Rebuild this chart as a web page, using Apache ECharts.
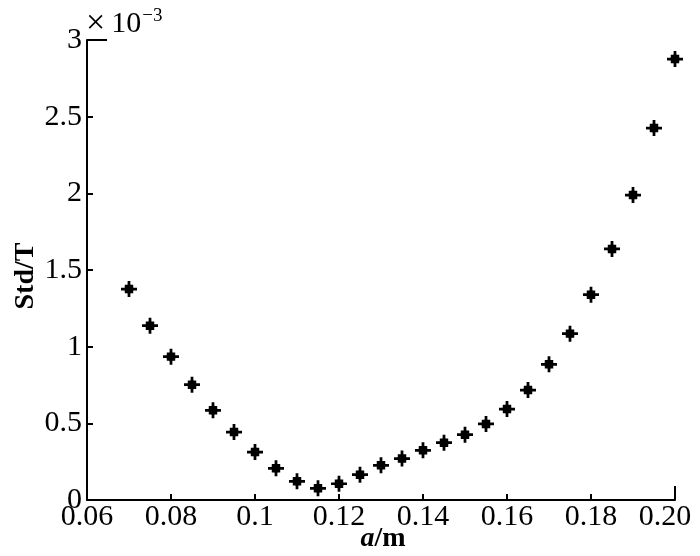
<!DOCTYPE html>
<html>
<head>
<meta charset="utf-8">
<script src="https://cdn.jsdelivr.net/npm/echarts@6/dist/echarts.min.js"></script>
<style>
html, body { margin: 0; padding: 0; background: #fff; }
#main { width: 700px; height: 556px; }
</style>
</head>
<body>
<div id="main"></div>
<script>
// a (m) and Std (x 10^-3 T)
var aValues = [0.07, 0.075, 0.08, 0.085, 0.09, 0.095, 0.10, 0.105, 0.11, 0.115,
  0.12, 0.125, 0.13, 0.135, 0.14, 0.145, 0.15, 0.155, 0.16, 0.165,
  0.17, 0.175, 0.18, 0.185, 0.19, 0.195, 0.20]
var stdValues = [1.376, 1.137, 0.935, 0.752, 0.585, 0.443, 0.313, 0.207, 0.122, 0.076,
  0.106, 0.165, 0.226, 0.270, 0.324, 0.374, 0.426, 0.496, 0.593, 0.717,
  0.885, 1.085, 1.339, 1.637, 1.989, 2.426, 2.876]
var xLabels = ['0.06', '0.08', '0.1', '0.12', '0.14', '0.16', '0.18', '0.20']
var yLabels = ['0', '0.5', '1', '1.5', '2', '2.5', '3']

var font = '"Liberation Serif", "Times New Roman", serif'
// eight-pointed asterisk marker
var star = 'path://M5.8 0L8.2 0L8.2 14L5.8 14Z M0 5.8L14 5.8L14 8.2L0 8.2Z M7 1.8L12.2 7L7 12.2L1.8 7Z M3.3 3.3L10.7 3.3L10.7 10.7L3.3 10.7Z'

var chart = echarts.init(document.getElementById('main'))
var option = {
  backgroundColor: '#fff',
  animation: false,
  grid: { left: 87, right: 25, top: 40, bottom: 56, containLabel: false, outerBoundsMode: 'none' },
  xAxis: {
    type: 'value',
    min: 0.06,
    max: 0.2,
    interval: 0.02,
    name: '{i|a}/m',
    nameLocation: 'middle',
    nameGap: 25,
    nameMoveOverlap: false,
    nameTextStyle: {
      fontFamily: font, fontSize: 28, fontWeight: 'bold', color: '#000', padding: [0, 0, 0, 4],
      rich: { i: { fontFamily: font, fontSize: 28, fontWeight: 'bold', fontStyle: 'italic', color: '#000' } }
    },
    axisLine: { lineStyle: { color: '#000', width: 2 } },
    axisTick: { inside: true, length: 6, lineStyle: { color: '#000', width: 2 } },
    axisLabel: {
      margin: 2,
      fontFamily: font, fontSize: 30, color: '#000',
      formatter: function (v) {
        var i = Math.round((v - 0.06) / 0.02)
        return i === xLabels.length - 1 ? '{r|' + xLabels[i] + '}' : xLabels[i]
      },
      rich: { r: { fontFamily: font, fontSize: 30, color: '#000', padding: [0, 20, 0, 0] } }
    },
    splitLine: { show: false }
  },
  yAxis: {
    type: 'value',
    min: 0,
    max: 3,
    interval: 0.5,
    name: 'Std/T',
    nameLocation: 'middle',
    nameRotate: 90,
    nameGap: 47,
    nameMoveOverlap: false,
    nameTextStyle: { fontFamily: font, fontSize: 28, fontWeight: 'bold', color: '#000', padding: [0, 12, 0, 0] },
    axisLine: { lineStyle: { color: '#000', width: 2 } },
    axisTick: { inside: true, length: 6, lineStyle: { color: '#000', width: 2 } },
    axisLabel: {
      margin: 5,
      fontFamily: font, fontSize: 30, color: '#000',
      formatter: function (v) { return yLabels[Math.round(v / 0.5)] }
    },
    splitLine: { show: false }
  },
  graphic: [
    {
      type: 'line',
      shape: { x1: 87, y1: 40, x2: 107, y2: 40 },
      style: { stroke: '#000', lineWidth: 2 }
    },
    {
      type: 'text',
      left: 86,
      top: 7,
      style: {
        text: '{m|\u00d7}{n|10}{s|\u22123}',
        rich: {
          m: { fontFamily: font, fontSize: 34, fill: '#000', padding: [0, 6, 0, 0] },
          n: { fontFamily: font, fontSize: 30, fill: '#000' },
          s: { fontFamily: font, fontSize: 19, fill: '#000', verticalAlign: 'top', padding: [0, 0, 14, 1] }
        }
      }
    },
    {
      type: 'line',
      shape: { x1: 675, y1: 486, x2: 675, y2: 500 },
      style: { stroke: '#000', lineWidth: 2 }
    }
  ],
  series: [{
    type: 'scatter',
    symbol: star,
    symbolSize: 16,
    itemStyle: { color: '#000', opacity: 1 },
    data: aValues.map(function (a, i) { return [a, stdValues[i]] })
  }]
}
chart.setOption(option)
</script>
</body>
</html>
